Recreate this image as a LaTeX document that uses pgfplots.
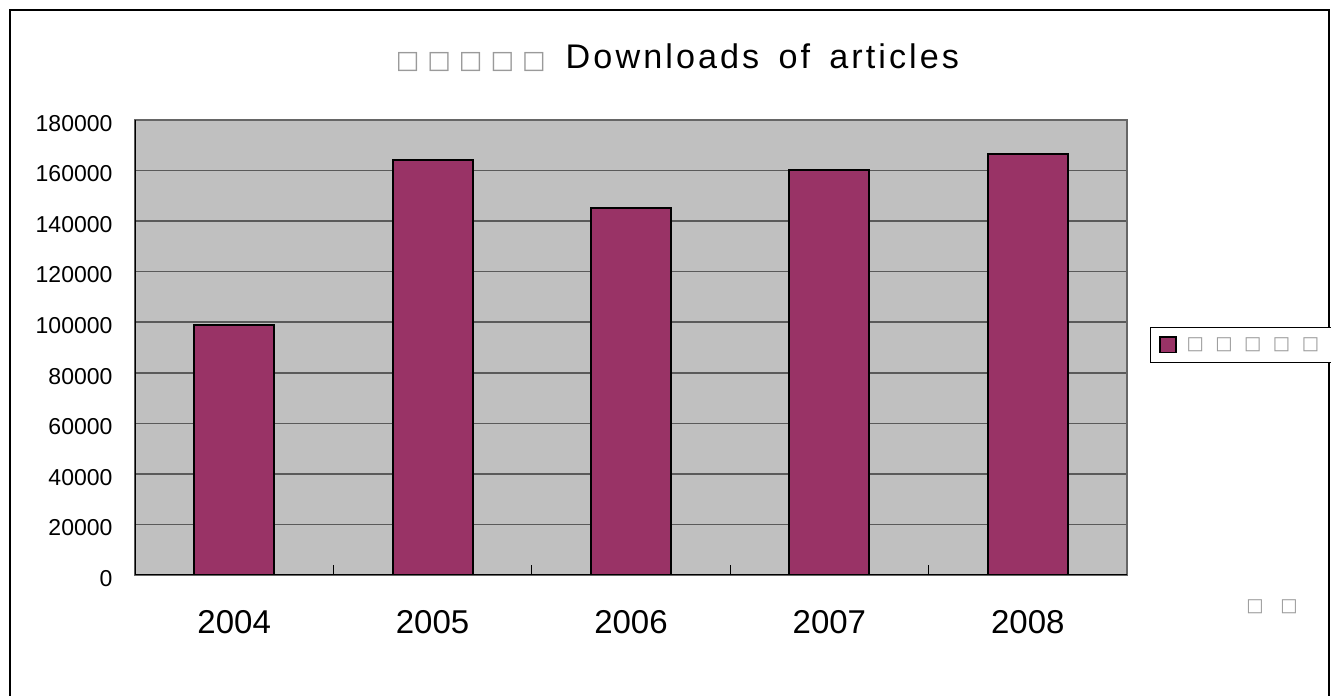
\documentclass[border=0pt]{standalone}
\usepackage{fontspec}
\setmainfont{Liberation Sans}
\newfontfamily\boxfont{DejaVu Sans}
\usepackage{pgfplots}
\pgfplotsset{compat=1.18}
\definecolor{plum}{HTML}{993366}
\definecolor{plotbg}{HTML}{C0C0C0}
\definecolor{boxgray}{HTML}{9A9A9A}
\definecolor{gridgray}{HTML}{5A5A5A}

\begin{document}
\begin{tikzpicture}
\useasboundingbox (0pt,0pt) rectangle (798.6pt,417.6pt);
% chart frame
\draw[black, line width=0.8pt] (6pt,-3pt) -- (6pt,411.6pt) -- (797.4pt,411.6pt) -- (797.4pt,-3pt);

\begin{axis}[
    at={(81pt,72.6pt)}, anchor=south west,
    scale only axis, width=595.2pt, height=273pt,
    ybar, bar width=48pt,
    xmin=-0.5, xmax=4.5, ymin=0, ymax=180000,
    xtick={0,...,4}, xticklabels={2004,2005,2006,2007,2008},
    minor xtick={0.5,1.5,2.5,3.5},
    ytick={0,20000,...,180000},
    scaled y ticks=false,
    tick pos=left,
    yticklabel style={/pgf/number format/fixed, /pgf/number format/1000 sep={},
        font=\fontsize{13.8}{16}\selectfont, xshift=-10pt, yshift=-2pt},
    xticklabel style={font=\fontsize{19.8}{23}\selectfont, yshift=-18pt},
    /pgf/number format/assume math mode=true,
    tick align=inside,
    major x tick style={draw=none},
    minor x tick style={black, line width=0.6pt},
    minor tick length=6pt,
    y tick style={draw=none},
    ymajorgrids, grid style={color=gridgray, line width=0.9pt},
    axis background/.style={fill=plotbg},
    axis line style={draw=gray!80!black, line width=1pt},
    legend style={at={(1.0232,0.5055)}, anchor=west, draw=black, line width=0.6pt,
        fill=white, inner xsep=5pt, inner ysep=4pt,
        font=\boxfont\fontsize{11}{13}\selectfont, text=boxgray,
        legend cell align=left},
]
\addplot[fill=plum, draw=black, line width=1.2pt,
    legend image code/.code={\draw[fill=plum, draw=black, line width=1pt] (0pt,-4.6pt) rectangle (9.6pt,4.6pt);}]
    coordinates {(0,99000) (1,164200) (2,145300) (3,160300) (4,166600)};
\legend{\hspace{4pt}□\hspace{6.9pt}□\hspace{6.9pt}□\hspace{6.9pt}□\hspace{6.9pt}□\hspace{6.9pt}□}
\draw[black, line width=1pt] (rel axis cs:0,1) -- (rel axis cs:0,0) -- (rel axis cs:1,0);
\end{axis}

% title
\node[font=\fontsize{20.5}{24}\selectfont] at (406.5pt,383pt)
  {{\boxfont\fontsize{15}{18}\selectfont\color{boxgray}□ □ □ □ □}\hspace{12pt}{\addfontfeature{LetterSpace=9}Downloads\hspace{4pt} of\hspace{4pt} articles}};
\node[font=\boxfont\fontsize{11}{13}\selectfont, text=boxgray] at (763.2pt,53.4pt) {□\hspace{10pt}□};
\end{tikzpicture}
\end{document}
